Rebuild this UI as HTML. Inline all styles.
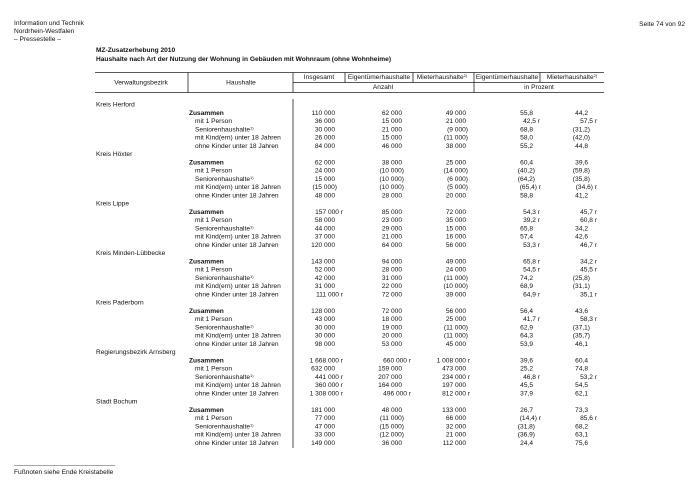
<!DOCTYPE html>
<html><head><meta charset="utf-8"><style>
html,body{margin:0;padding:0;background:#fff;}
svg{display:block;}
text{font-family:"Liberation Sans",sans-serif;font-size:6.6px;fill:#111;}
.b{font-weight:bold;}
.e{text-anchor:end;}
.m{text-anchor:middle;}
</style></head><body>
<svg width="700" height="495" viewBox="0 0 700 495" xmlns="http://www.w3.org/2000/svg">
<text x="14" y="25">Information und Technik</text>
<text x="14" y="33">Nordrhein-Westfalen</text>
<text x="14" y="41">– Pressestelle –</text>
<text x="685" y="26" class="e">Seite 74 von 92</text>
<text x="96" y="52" class="b">MZ-Zusatzerhebung 2010</text>
<text x="96" y="61" class="b">Haushalte nach  Art der Nutzung der Wohnung in Gebäuden mit Wohnraum (ohne Wohnheime)</text>
<g stroke="#222" stroke-width="0.8" fill="none">
<line x1="95" y1="72.5" x2="604" y2="72.5"/>
<line x1="95" y1="92.5" x2="604" y2="92.5"/>
<line x1="293" y1="82.5" x2="604" y2="82.5"/>
<line x1="188" y1="72.5" x2="188" y2="92.5"/>
<line x1="293" y1="72.5" x2="293" y2="92.5"/>
<line x1="345" y1="72.5" x2="345" y2="82.5"/>
<line x1="413" y1="72.5" x2="413" y2="82.5"/>
<line x1="474" y1="72.5" x2="474" y2="92.5"/>
<line x1="540" y1="72.5" x2="540" y2="82.5"/>
<line x1="293" y1="99" x2="293" y2="448"/>
</g>
<line x1="14" y1="465.5" x2="115" y2="465.5" stroke="#888" stroke-width="0.8"/>
<text x="14" y="474">Fußnoten siehe Ende Kreistabelle</text>
<text x="141" y="84.5" class="m">Verwaltungsbezirk</text>
<text x="241" y="84.5" class="m">Haushalte</text>
<text x="319" y="79" class="m">Insgesamt</text>
<text x="379" y="79" class="m">Eigentümerhaushalte</text>
<text x="442" y="79" class="m">Mieterhaushalte<tspan font-size="4" dy="-2">2)</tspan></text>
<text x="507" y="79" class="m">Eigentümerhaushalte</text>
<text x="572" y="79" class="m">Mieterhaushalte<tspan font-size="4" dy="-2">2)</tspan></text>
<text x="383" y="89" class="m">Anzahl</text>
<text x="539" y="89" class="m">in Prozent</text>

<!-- Kreis Herford -->
<text x="96" y="106.5">Kreis Herford</text>
<g transform="translate(0,114.75)"><text x="189" class="b">Zusammen</text><text x="335" class="e">110 000</text><text x="402" class="e">62 000</text><text x="466" class="e">49 000</text><text x="533" class="e">55,8</text><text x="588" class="e">44,2</text></g>
<g transform="translate(0,123)"><text x="195">mit 1 Person</text><text x="335" class="e">36 000</text><text x="402" class="e">15 000</text><text x="466" class="e">21 000</text><text x="540" class="e">42,5 r</text><text x="597" class="e">57,5 r</text></g>
<g transform="translate(0,131.25)"><text x="195">Seniorenhaushalte<tspan font-size="4" dy="-2">1)</tspan></text><text x="335" class="e">30 000</text><text x="402" class="e">21 000</text><text x="468" class="e">(9 000)</text><text x="533" class="e">68,8</text><text x="590" class="e">(31,2)</text></g>
<g transform="translate(0,139.5)"><text x="195">mit Kind(ern) unter 18 Jahren</text><text x="335" class="e">26 000</text><text x="402" class="e">15 000</text><text x="468" class="e">(11 000)</text><text x="533" class="e">58,0</text><text x="590" class="e">(42,0)</text></g>
<g transform="translate(0,147.75)"><text x="195">ohne Kinder unter 18 Jahren</text><text x="335" class="e">84 000</text><text x="402" class="e">46 000</text><text x="466" class="e">38 000</text><text x="533" class="e">55,2</text><text x="588" class="e">44,8</text></g>

<!-- Kreis Höxter -->
<text x="96" y="156">Kreis Höxter</text>
<g transform="translate(0,164.25)"><text x="189" class="b">Zusammen</text><text x="335" class="e">62 000</text><text x="402" class="e">38 000</text><text x="466" class="e">25 000</text><text x="533" class="e">60,4</text><text x="588" class="e">39,6</text></g>
<g transform="translate(0,172.5)"><text x="195">mit 1 Person</text><text x="335" class="e">24 000</text><text x="404" class="e">(10 000)</text><text x="468" class="e">(14 000)</text><text x="535" class="e">(40,2)</text><text x="590" class="e">(59,8)</text></g>
<g transform="translate(0,180.75)"><text x="195">Seniorenhaushalte<tspan font-size="4" dy="-2">1)</tspan></text><text x="335" class="e">15 000</text><text x="404" class="e">(10 000)</text><text x="468" class="e">(6 000)</text><text x="535" class="e">(64,2)</text><text x="590" class="e">(35,8)</text></g>
<g transform="translate(0,189)"><text x="195">mit Kind(ern) unter 18 Jahren</text><text x="337" class="e">(15 000)</text><text x="404" class="e">(10 000)</text><text x="468" class="e">(5 000)</text><text x="541" class="e">(65,4) r</text><text x="597" class="e">(34,6) r</text></g>
<g transform="translate(0,197.25)"><text x="195">ohne Kinder unter 18 Jahren</text><text x="335" class="e">48 000</text><text x="402" class="e">28 000</text><text x="466" class="e">20 000</text><text x="533" class="e">58,8</text><text x="588" class="e">41,2</text></g>

<!-- Kreis Lippe -->
<text x="96" y="205.5">Kreis Lippe</text>
<g transform="translate(0,213.75)"><text x="189" class="b">Zusammen</text><text x="343" class="e">157 000 r</text><text x="402" class="e">85 000</text><text x="466" class="e">72 000</text><text x="540" class="e">54,3 r</text><text x="597" class="e">45,7 r</text></g>
<g transform="translate(0,222)"><text x="195">mit 1 Person</text><text x="335" class="e">58 000</text><text x="402" class="e">23 000</text><text x="466" class="e">35 000</text><text x="540" class="e">39,2 r</text><text x="597" class="e">60,8 r</text></g>
<g transform="translate(0,230.25)"><text x="195">Seniorenhaushalte<tspan font-size="4" dy="-2">1)</tspan></text><text x="335" class="e">44 000</text><text x="402" class="e">29 000</text><text x="466" class="e">15 000</text><text x="533" class="e">65,8</text><text x="588" class="e">34,2</text></g>
<g transform="translate(0,238.5)"><text x="195">mit Kind(ern) unter 18 Jahren</text><text x="335" class="e">37 000</text><text x="402" class="e">21 000</text><text x="466" class="e">16 000</text><text x="533" class="e">57,4</text><text x="588" class="e">42,6</text></g>
<g transform="translate(0,246.75)"><text x="195">ohne Kinder unter 18 Jahren</text><text x="335" class="e">120 000</text><text x="402" class="e">64 000</text><text x="466" class="e">56 000</text><text x="540" class="e">53,3 r</text><text x="597" class="e">46,7 r</text></g>

<!-- Minden-Lübbecke -->
<text x="96" y="255">Kreis Minden-Lübbecke</text>
<g transform="translate(0,263.25)"><text x="189" class="b">Zusammen</text><text x="335" class="e">143 000</text><text x="402" class="e">94 000</text><text x="466" class="e">49 000</text><text x="540" class="e">65,8 r</text><text x="597" class="e">34,2 r</text></g>
<g transform="translate(0,271.5)"><text x="195">mit 1 Person</text><text x="335" class="e">52 000</text><text x="402" class="e">28 000</text><text x="466" class="e">24 000</text><text x="540" class="e">54,5 r</text><text x="597" class="e">45,5 r</text></g>
<g transform="translate(0,279.75)"><text x="195">Seniorenhaushalte<tspan font-size="4" dy="-2">1)</tspan></text><text x="335" class="e">42 000</text><text x="402" class="e">31 000</text><text x="468" class="e">(11 000)</text><text x="533" class="e">74,2</text><text x="590" class="e">(25,8)</text></g>
<g transform="translate(0,288)"><text x="195">mit Kind(ern) unter 18 Jahren</text><text x="335" class="e">31 000</text><text x="402" class="e">22 000</text><text x="468" class="e">(10 000)</text><text x="533" class="e">68,9</text><text x="590" class="e">(31,1)</text></g>
<g transform="translate(0,296.25)"><text x="195">ohne Kinder unter 18 Jahren</text><text x="343" class="e">111 000 r</text><text x="402" class="e">72 000</text><text x="466" class="e">39 000</text><text x="540" class="e">64,9 r</text><text x="597" class="e">35,1 r</text></g>

<!-- Paderborn -->
<text x="96" y="304.5">Kreis Paderborn</text>
<g transform="translate(0,312.75)"><text x="189" class="b">Zusammen</text><text x="335" class="e">128 000</text><text x="402" class="e">72 000</text><text x="466" class="e">56 000</text><text x="533" class="e">56,4</text><text x="588" class="e">43,6</text></g>
<g transform="translate(0,321)"><text x="195">mit 1 Person</text><text x="335" class="e">43 000</text><text x="402" class="e">18 000</text><text x="466" class="e">25 000</text><text x="540" class="e">41,7 r</text><text x="597" class="e">58,3 r</text></g>
<g transform="translate(0,329.25)"><text x="195">Seniorenhaushalte<tspan font-size="4" dy="-2">1)</tspan></text><text x="335" class="e">30 000</text><text x="402" class="e">19 000</text><text x="468" class="e">(11 000)</text><text x="533" class="e">62,9</text><text x="590" class="e">(37,1)</text></g>
<g transform="translate(0,337.5)"><text x="195">mit Kind(ern) unter 18 Jahren</text><text x="335" class="e">30 000</text><text x="402" class="e">20 000</text><text x="468" class="e">(11 000)</text><text x="533" class="e">64,3</text><text x="590" class="e">(35,7)</text></g>
<g transform="translate(0,345.75)"><text x="195">ohne Kinder unter 18 Jahren</text><text x="335" class="e">98 000</text><text x="402" class="e">53 000</text><text x="466" class="e">45 000</text><text x="533" class="e">53,9</text><text x="588" class="e">46,1</text></g>

<!-- Arnsberg -->
<text x="96" y="354">Regierungsbezirk Arnsberg</text>
<g transform="translate(0,362.25)"><text x="189" class="b">Zusammen</text><text x="343" class="e">1 668 000 r</text><text x="411" class="e">660 000 r</text><text x="470" class="e">1 008 000 r</text><text x="533" class="e">39,6</text><text x="588" class="e">60,4</text></g>
<g transform="translate(0,370.5)"><text x="195">mit 1 Person</text><text x="335" class="e">632 000</text><text x="402" class="e">159 000</text><text x="466" class="e">473 000</text><text x="533" class="e">25,2</text><text x="588" class="e">74,8</text></g>
<g transform="translate(0,378.75)"><text x="195">Seniorenhaushalte<tspan font-size="4" dy="-2">1)</tspan></text><text x="343" class="e">441 000 r</text><text x="402" class="e">207 000</text><text x="470" class="e">234 000 r</text><text x="540" class="e">46,8 r</text><text x="597" class="e">53,2 r</text></g>
<g transform="translate(0,387)"><text x="195">mit Kind(ern) unter 18 Jahren</text><text x="343" class="e">360 000 r</text><text x="402" class="e">164 000</text><text x="466" class="e">197 000</text><text x="533" class="e">45,5</text><text x="588" class="e">54,5</text></g>
<g transform="translate(0,395.25)"><text x="195">ohne Kinder unter 18 Jahren</text><text x="343" class="e">1 308 000 r</text><text x="411" class="e">496 000 r</text><text x="470" class="e">812 000 r</text><text x="533" class="e">37,9</text><text x="588" class="e">62,1</text></g>

<!-- Bochum -->
<text x="96" y="403.5">Stadt Bochum</text>
<g transform="translate(0,411.75)"><text x="189" class="b">Zusammen</text><text x="335" class="e">181 000</text><text x="402" class="e">48 000</text><text x="466" class="e">133 000</text><text x="533" class="e">26,7</text><text x="588" class="e">73,3</text></g>
<g transform="translate(0,420)"><text x="195">mit 1 Person</text><text x="335" class="e">77 000</text><text x="404" class="e">(11 000)</text><text x="466" class="e">66 000</text><text x="541" class="e">(14,4) r</text><text x="597" class="e">85,6 r</text></g>
<g transform="translate(0,428.25)"><text x="195">Seniorenhaushalte<tspan font-size="4" dy="-2">1)</tspan></text><text x="335" class="e">47 000</text><text x="404" class="e">(15 000)</text><text x="466" class="e">32 000</text><text x="535" class="e">(31,8)</text><text x="588" class="e">68,2</text></g>
<g transform="translate(0,436.5)"><text x="195">mit Kind(ern) unter 18 Jahren</text><text x="335" class="e">33 000</text><text x="404" class="e">(12 000)</text><text x="466" class="e">21 000</text><text x="535" class="e">(36,9)</text><text x="588" class="e">63,1</text></g>
<g transform="translate(0,444.75)"><text x="195">ohne Kinder unter 18 Jahren</text><text x="335" class="e">149 000</text><text x="402" class="e">36 000</text><text x="466" class="e">112 000</text><text x="533" class="e">24,4</text><text x="588" class="e">75,6</text></g>
</svg>
</body></html>
